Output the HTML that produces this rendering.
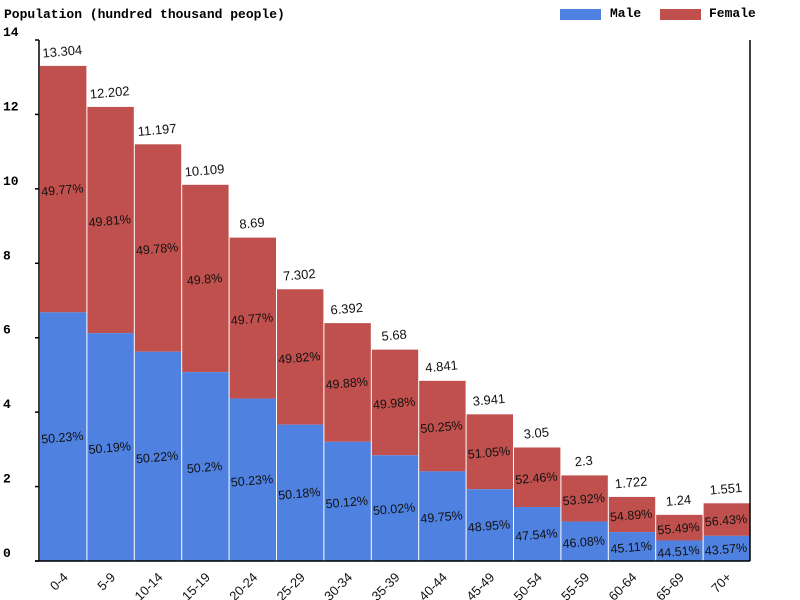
<!DOCTYPE html>
<html><head><meta charset="utf-8"><style>
body{margin:0;background:#fff;}
svg{display:block;font-family:"Liberation Sans",sans-serif;}
.mono{font-family:"Liberation Mono",monospace;font-weight:bold;font-size:13px;}
</style></head><body>
<svg id="chart" width="800" height="600" viewBox="0 0 800 600">
<text class="mono" x="4" y="18">Population (hundred thousand people)</text>
<rect x="560" y="9" width="41" height="11" fill="#4f81e0"/>
<text class="mono" x="610" y="17" font-size="11">Male</text>
<rect x="660" y="9" width="41" height="11" fill="#c0504d"/>
<text class="mono" x="709" y="17" font-size="11">Female</text>
<g id="bars"></g>
<line x1="39" y1="40" x2="39" y2="561" stroke="#000" stroke-width="1.5"/>
<line x1="750" y1="40" x2="750" y2="561" stroke="#000" stroke-width="1.5"/>
<line x1="35" y1="561" x2="750" y2="561" stroke="#000" stroke-width="1.5"/>
<g id="axes"></g>
</svg>
<script>
const categories=["0-4","5-9","10-14","15-19","20-24","25-29","30-34","35-39","40-44","45-49","50-54","55-59","60-64","65-69","70+"];
const totals=[13.304,12.202,11.197,10.109,8.69,7.302,6.392,5.68,4.841,3.941,3.05,2.3,1.722,1.24,1.551];
const malePct=[50.23,50.19,50.22,50.2,50.23,50.18,50.12,50.02,49.75,48.95,47.54,46.08,45.11,44.51,43.57];
const femalePct=[49.77,49.81,49.78,49.8,49.77,49.82,49.88,49.98,50.25,51.05,52.46,53.92,54.89,55.49,56.43];
const yTicks=[0,2,4,6,8,10,12,14];
const NS="http://www.w3.org/2000/svg";
const X0=39,X1=750,Y0=561,YT=40,YMAX=14;
const y=v=>Y0-(v/YMAX)*(Y0-YT);
const bw=(X1-X0)/categories.length;
const x=i=>X0+i*bw;
function mk(tag,attrs,parent){const e=document.createElementNS(NS,tag);for(const k in attrs)e.setAttribute(k,attrs[k]);parent.appendChild(e);return e;}
const g=document.getElementById('bars');
const ax=document.getElementById('axes');
categories.forEach((c,i)=>{
  const t=totals[i],m=t*malePct[i]/100;
  const left=x(i)+1,w=bw-1,cx=x(i)+bw/2;
  const fr=mk('rect',{x:left,y:y(t),width:w,height:y(m)-y(t),fill:'#c0504d'},g);
  
  
  const mr=mk('rect',{x:left,y:y(m),width:w,height:Y0-y(m),fill:'#4f81e0'},g);
  
  
  const vy=y(t)-10;
  const vl=mk('text',{x:cx,y:vy,'text-anchor':'middle','font-size':'13',fill:'#111',transform:`rotate(-5 ${cx} ${vy})`},g);
  vl.textContent=String(t);
  
  
  const fy=(y(t)+y(m))/2+5;
  const fl=mk('text',{x:cx,y:fy,'text-anchor':'middle','font-size':'12.5',fill:'#111',transform:`rotate(-5 ${cx} ${fy})`},g);
  fl.textContent=femalePct[i]+'%';
  
  
  const my=(y(m)+Y0)/2+5;
  const ml=mk('text',{x:cx,y:my,'text-anchor':'middle','font-size':'12.5',fill:'#111',transform:`rotate(-5 ${cx} ${my})`},g);
  ml.textContent=malePct[i]+'%';
  
  
  const lx=cx+6,ly=578;
  const xl=mk('text',{x:lx,y:ly,'text-anchor':'end','font-size':'13',fill:'#111',transform:`rotate(-45 ${lx} ${ly})`},ax);
  xl.textContent=c;
  
  
});
yTicks.forEach(v=>{
  const ty=y(v);
  const tk=mk('line',{x1:35,x2:39,y1:ty,y2:ty,stroke:'#000','stroke-width':1.5},ax);
  
  
  const lb=mk('text',{x:3,y:ty-4,'class':'mono','font-size':'11'},ax);
  lb.textContent=String(v);
  
  
});
</script>
</body></html>
